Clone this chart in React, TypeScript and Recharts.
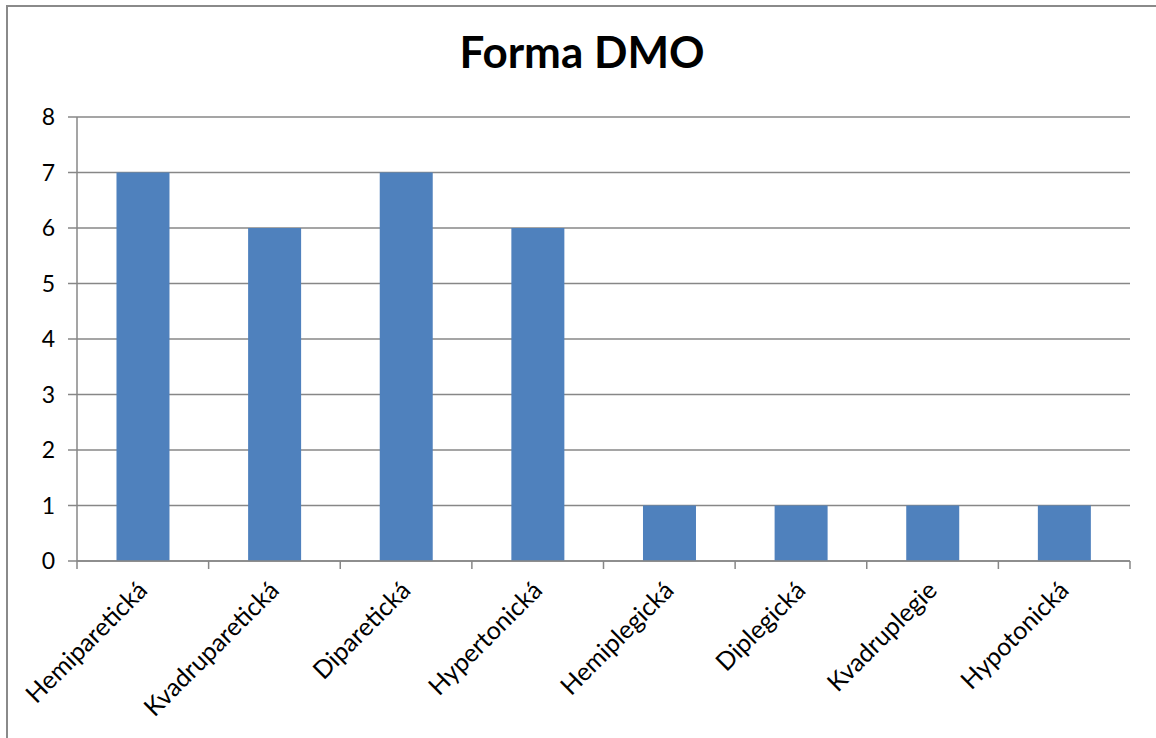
import { BarChart, Bar, XAxis, YAxis, CartesianGrid } from 'recharts';

const categories = [
    'Hemiparetická',
    'Kvadruparetická',
    'Diparetická',
    'Hypertonická',
    'Hemiplegická',
    'Diplegická',
    'Kvadruplegie',
    'Hypotonická',
];
const counts = [7, 6, 7, 6, 1, 1, 1, 1];
const yTicks = [0, 1, 2, 3, 4, 5, 6, 7, 8];

const data = categories.map((name, i) => ({ name, value: counts[i] }));

const FONT = 'Lato, "Open Sans", sans-serif';
const GRID = '#878787';

// tick mark on the band edges + slanted label at band centre
function SlantTick(props: any) {
    const { x, y, payload, index } = props;
    const half = payload.offset || 0;
    const tx = x + 6;
    const ty = y + 31;
    return (
        <g>
            <line x1={x - half} y1={y} x2={x - half} y2={y + 8} stroke={GRID} strokeWidth={1.5} />
            {index === categories.length - 1 && (
                <line x1={x + half} y1={y} x2={x + half} y2={y + 8} stroke={GRID} strokeWidth={1.5} />
            )}
            <text
                x={tx}
                y={ty}
                transform={`rotate(-45, ${tx}, ${ty})`}
                textAnchor="end"
                fontFamily={FONT}
                fontSize={25}
                fill="#000"
            >
                {payload.value}
            </text>
        </g>
    );
}

export default function App() {
    return (
        <div style={{ position: 'absolute', left: 0, top: 0, width: 1156, height: 738, background: '#fff', overflow: 'hidden' }}>
            <div
                style={{
                    position: 'absolute',
                    left: 6,
                    top: 5,
                    width: 1200,
                    height: 800,
                    border: '2px solid #8a8a8a',
                }}
            />
            <div
                style={{
                    position: 'absolute',
                    left: 8,
                    width: 1148,
                    top: 25,
                    textAlign: 'center',
                    fontFamily: FONT,
                    fontWeight: 'bold',
                    fontSize: 44,
                    color: '#000',
                }}
            >
                Forma DMO
            </div>
            <div style={{ position: 'absolute', left: 0, top: 0 }}>
                <BarChart
                    width={1156}
                    height={738}
                    data={data}
                    margin={{ top: 117, right: 26, bottom: 0, left: 7 }}
                    barCategoryGap="30%"
                >
                    <CartesianGrid
                        vertical={false}
                        stroke={GRID}
                        strokeWidth={1.5}
                    />
                    <XAxis
                        dataKey="name"
                        type="category"
                        interval={0}
                        axisLine={{ stroke: GRID, strokeWidth: 1.5 }}
                        tickLine={false}
                        tickSize={0}
                        tickMargin={0}
                        height={177}
                        tick={<SlantTick />}
                    />
                    <YAxis
                        domain={[0, 8]}
                        ticks={yTicks}
                        width={70}
                        tickSize={9}
                        tickMargin={13}
                        axisLine={{ stroke: GRID, strokeWidth: 1.5 }}
                        tickLine={{ stroke: GRID, strokeWidth: 1.5 }}
                        tick={{ fill: '#000', fontSize: 23, fontFamily: FONT }}
                    />
                    <Bar
                        dataKey="value"
                        fill="#4F81BD"
                        isAnimationActive={false}
                    />
                </BarChart>
            </div>
        </div>
    );
}
